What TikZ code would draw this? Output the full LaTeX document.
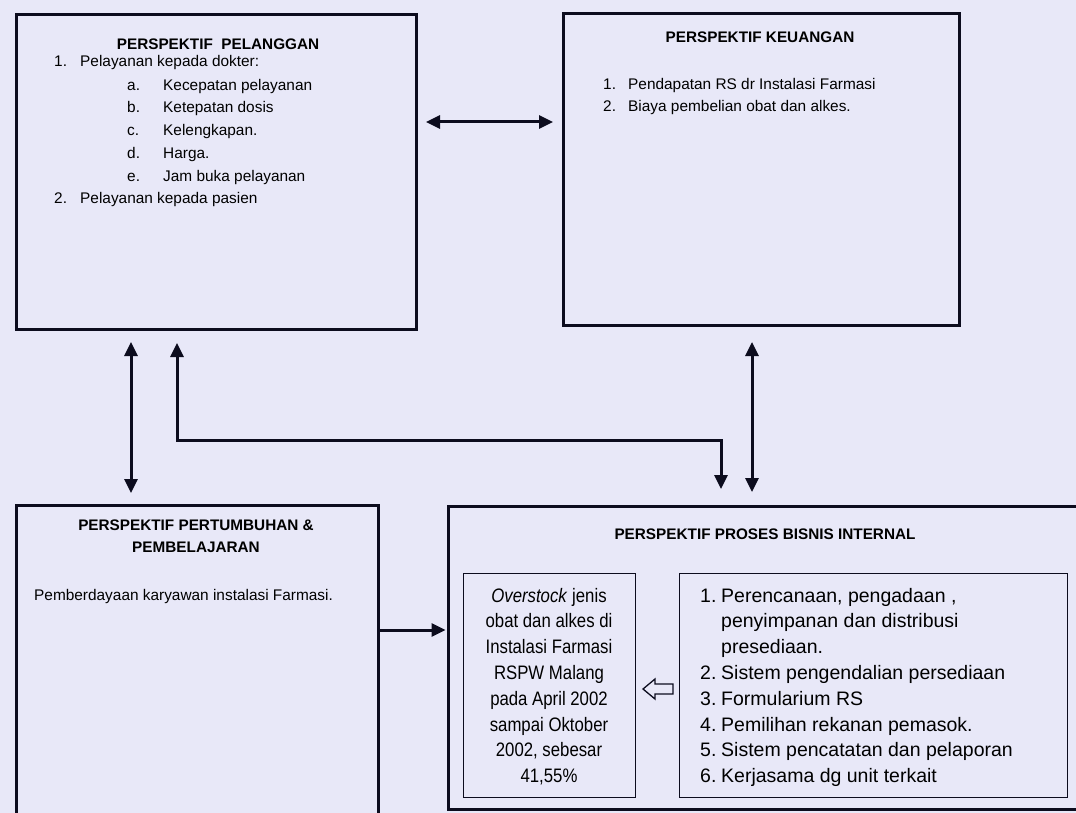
\documentclass[tikz,border=0pt]{standalone}
\usepackage{fontspec}
\setmainfont{Liberation Sans}
\newfontfamily\narrowsans{Liberation Sans}[FakeStretch=0.86]
\usetikzlibrary{arrows.meta}
\definecolor{ink}{RGB}{12,12,30}
\definecolor{paper}{RGB}{232,232,248}
\tikzset{
  frame/.style={draw=ink, line width=3pt, inner sep=0pt, anchor=north west},
  inbox/.style={draw=ink, line width=1.4pt, inner sep=0pt, anchor=north west},
  link/.style={draw=ink, line width=3pt, -{Triangle[length=14pt,width=13pt]}},
  both/.style={link, {Triangle[length=14pt,width=13pt]}-{Triangle[length=14pt,width=13pt]}},
  body/.style={font=\fontsize{15.4}{23}\selectfont, inner sep=0pt, anchor=base west},
  head/.style={font=\bfseries\fontsize{15.3}{23}\selectfont, inner sep=0pt, anchor=base},
  big/.style={font=\fontsize{19.5}{25.7}\selectfont, inner sep=0pt, anchor=base west},
  bigc/.style={font=\narrowsans\fontsize{19.5}{25.7}\selectfont, inner sep=0pt, anchor=base},
}
\begin{document}
\begin{tikzpicture}[x=1pt, y=-1pt]
  \useasboundingbox (0,0) rectangle (1076,813);
  \clip (0,0) rectangle (1076,813);
  \fill[paper] (0,0) rectangle (1076,813);

  % the four perspectives
  \node[frame, minimum width=400pt, minimum height=315pt] (pel) at (15,13) {};
  \node[frame, minimum width=396pt, minimum height=312pt] (keu) at (562,12) {};
  \node[frame, minimum width=362pt, minimum height=340pt] (tum) at (15,504) {};
  \node[frame, minimum width=650pt, minimum height=303pt] (pro) at (447,505) {};

  % inner boxes of the internal business process
  \node[inbox, minimum width=172pt, minimum height=224pt] (ovs) at (463,573) {};
  \node[inbox, minimum width=388pt, minimum height=224pt] (lst) at (679,573) {};

  % customer perspective
  \node[head] (pelT) at (218,50) {PERSPEKTIF\ \ PELANGGAN};
  \node[body] (p1n) at (54,67) {1.};
  \node[body] (p1) at (80,67) {Pelayanan kepada dokter:};
  \node[body] (pan) at (127,91) {a.};
  \node[body] (pa) at (163,91) {Kecepatan pelayanan};
  \node[body] (pbn) at (127,113) {b.};
  \node[body] (pb) at (163,113) {Ketepatan dosis};
  \node[body] (pcn) at (127,136) {c.};
  \node[body] (pc) at (163,136) {Kelengkapan.};
  \node[body] (pdn) at (127,159) {d.};
  \node[body] (pd) at (163,159) {Harga.};
  \node[body] (pen) at (127,182) {e.};
  \node[body] (pe) at (163,182) {Jam buka pelayanan};
  \node[body] (p2n) at (54,204) {2.};
  \node[body] (p2) at (80,204) {Pelayanan kepada pasien};

  % financial perspective
  \node[head] (keuT) at (760,43) {PERSPEKTIF KEUANGAN};
  \node[body] (k1n) at (603,90) {1.};
  \node[body] (k1) at (628,90) {Pendapatan RS dr Instalasi Farmasi};
  \node[body] (k2n) at (603,112) {2.};
  \node[body] (k2) at (628,112) {Biaya pembelian obat dan alkes.};

  % learning and growth perspective
  \node[head] (tumT1) at (196,530) {PERSPEKTIF PERTUMBUHAN \&};
  \node[head] (tumT2) at (196,552) {PEMBELAJARAN};
  \node[body] (t1) at (34,600) {Pemberdayaan karyawan instalasi Farmasi.};

  % internal business process perspective
  \node[head] (proT) at (765,539) {PERSPEKTIF PROSES BISNIS INTERNAL};
  \node[bigc] (o1) at (549,602) {\textit{Overstock} jenis};
  \node[bigc] (o2) at (549,627) {obat dan alkes di};
  \node[bigc] (o3) at (549,653) {Instalasi Farmasi};
  \node[bigc] (o4) at (549,679) {RSPW Malang};
  \node[bigc] (o5) at (549,705) {pada April 2002};
  \node[bigc] (o6) at (549,731) {sampai Oktober};
  \node[bigc] (o7) at (549,756) {2002, sebesar};
  \node[bigc] (o8) at (549,782) {41,55\%};

  \node[big] (l1n) at (700,602) {1.};
  \node[big] (l1) at (721,602) {Perencanaan, pengadaan ,};
  \node[big] (l1b) at (721,627) {penyimpanan dan distribusi};
  \node[big] (l1c) at (721,653) {presediaan.};
  \node[big] (l2n) at (700,679) {2.};
  \node[big] (l2) at (721,679) {Sistem pengendalian persediaan};
  \node[big] (l3n) at (700,705) {3.};
  \node[big] (l3) at (721,705) {Formularium RS};
  \node[big] (l4n) at (700,731) {4.};
  \node[big] (l4) at (721,731) {Pemilihan rekanan pemasok.};
  \node[big] (l5n) at (700,756) {5.};
  \node[big] (l5) at (721,756) {Sistem pencatatan dan pelaporan};
  \node[big] (l6n) at (700,782) {6.};
  \node[big] (l6) at (721,782) {Kerjasama dg unit terkait};

  % hollow arrow from the list to the overstock box
  \draw[ink, line width=1.3pt, line join=miter]
    (643,689) -- ++(12,-10) -- ++(0,5) -- ++(18,0) -- ++(0,10)
    -- ++(-18,0) -- ++(0,5) -- cycle;

  % connectors
  \coordinate (hrow) at (0,122);
  \coordinate (c1) at (131,0);
  \coordinate (c2) at (177,440);
  \coordinate (c3) at (721,440);
  \coordinate (c4) at (752,0);
  \coordinate (c5) at (0,630);
  \draw[both, shorten <=8pt, shorten >=9pt] (pel.east |- hrow) -- (keu.west |- hrow);
  \draw[both, shorten <=11pt, shorten >=11pt] (pel.south -| c1) -- (tum.north -| c1);
  \draw[both, shorten <=12pt, shorten >=16pt] (pel.south -| c2) -- (c2) -- (c3) -- (pro.north -| c3);
  \draw[both, shorten <=15pt, shorten >=13pt] (keu.south -| c4) -- (pro.north -| c4);
  \draw[link, shorten >=1.5pt] (tum.east |- c5) -- (pro.west |- c5);
\end{tikzpicture}
\end{document}
